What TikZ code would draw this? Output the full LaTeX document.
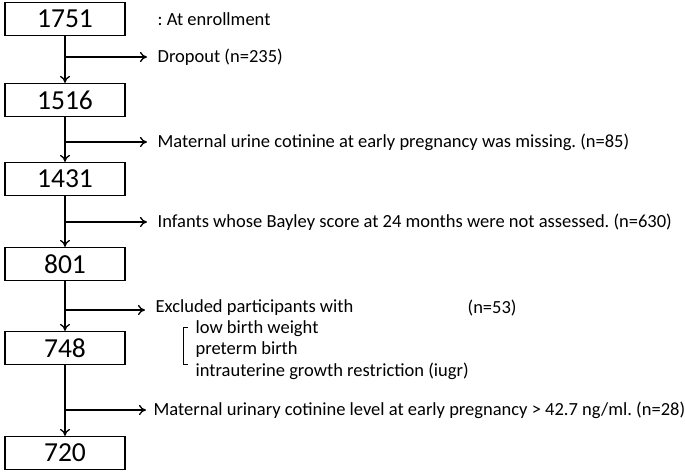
\documentclass[tikz,border=0pt]{standalone}
\usepackage{fontspec}
\setmainfont{Carlito}
\usetikzlibrary{arrows.meta}
\frenchspacing

\begin{document}
\begin{tikzpicture}[x=1pt, y=-1pt, line width=1.3pt,
    every node/.style={font=\fontsize{18.5}{21}\selectfont},
    countbox/.style={draw, minimum width=120pt, minimum height=33pt, inner sep=0pt,
      font=\fontsize{27.5}{30}\selectfont},
    note/.style={anchor=west, inner sep=0pt},
    flow/.style={-{To[length=7pt, width=10pt]}}]
    \useasboundingbox (0,0) rectangle (685,471);

    % Kästchen mit Fallzahlen
    \node[countbox] (n1751) at (65,19) {1751};
    \node[countbox] (n1516) at (65,100) {1516};
    \node[countbox] (n1431) at (65,179) {1431};
    \node[countbox] (n801) at (65,264) {801};
    \node[countbox] (n748) at (65,348) {748};
    \node[countbox] (n720) at (65,453) {720};

    \node[note] (enroll) at (157,19) {: At enrollment};

    % senkrechte Pfeile
    \draw[flow] (n1751) -- (n1516);
    \draw[flow] (n1516) -- (n1431);
    \draw[flow] (n1431) -- (n801);
    \draw[flow] (n801) -- (n748);
    \draw[flow] (n748) -- (n720);

    % Ausschlüsse
    \coordinate (b1) at (65,57);
    \node[note] (drop) at (157,57) {Dropout (n=235)};
    \draw[flow, shorten >=10pt] (b1) -- (drop.west);

    \coordinate (b2) at (65,142);
    \node[note] (urine) at (157,142) {Maternal urine cotinine at early pregnancy was missing. (n=85)};
    \draw[flow, shorten >=10pt] (b2) -- (urine.west);

    \coordinate (b3) at (65,222);
    \node[note] (bayley) at (157,222) {Infants whose Bayley score at 24 months were not assessed. (n=630)};
    \draw[flow, shorten >=10pt] (b3) -- (bayley.west);

    \coordinate (b4) at (65,310);
    \node[note] (excl) at (155,308) {Excluded participants with};
    \node[note] (n53) at (467,308) {(n=53)};
    \draw[flow, shorten >=10pt] (b4) -- (b4 -| excl.west);
    \node[note] (lbw) at (195,329) {low birth weight};
    \node[note] (pre) at (195,350) {preterm birth};
    \node[note] (iugr) at (195,371) {intrauterine growth restriction (iugr)};
    \draw[line width=0.8pt] (188,327) -- (183,327) -- (183,364) -- (188,364);

    \coordinate (b5) at (65,410);
    \node[note] (level) at (153,410) {Maternal urinary cotinine level at early pregnancy > 42.7 ng/ml. (n=28)};
    \draw[flow, shorten >=7pt] (b5) -- (level.west);
\end{tikzpicture}
\end{document}
